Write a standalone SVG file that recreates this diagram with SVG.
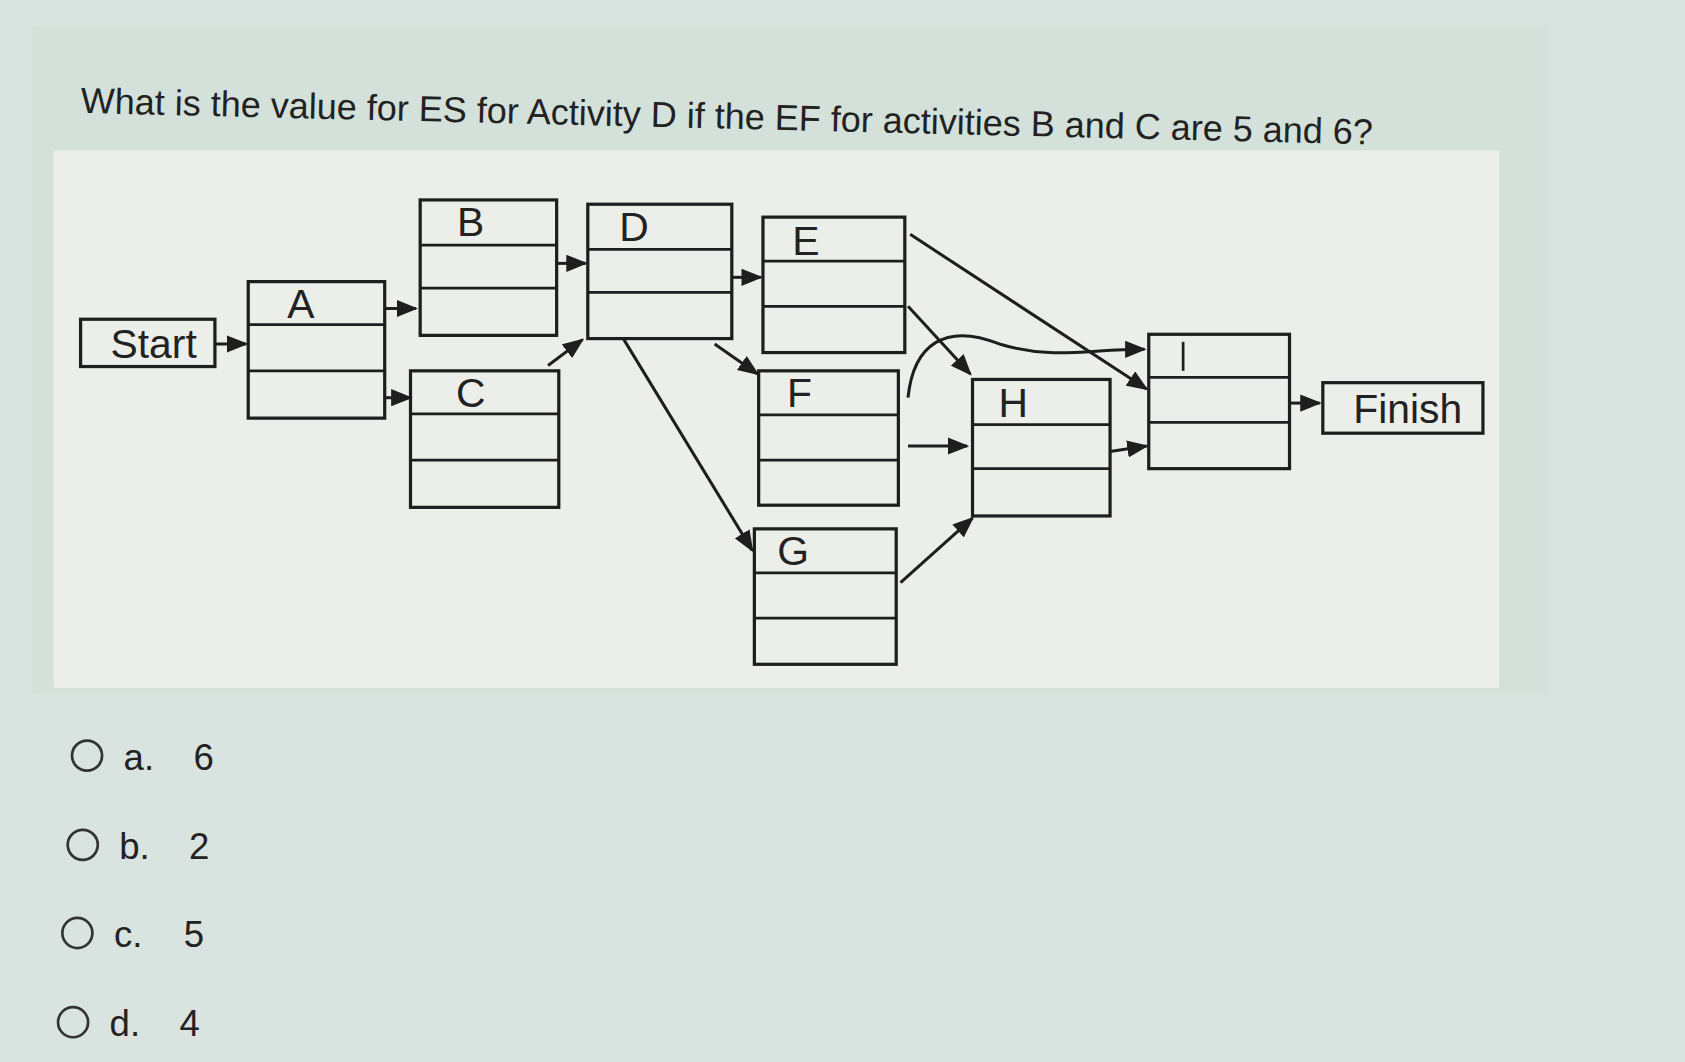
<svg xmlns="http://www.w3.org/2000/svg" width="1685" height="1062" viewBox="0 0 1685 1062">
<defs>
<style>
.n rect{fill:none;stroke:#1e1e1e;stroke-width:3}
.n line{stroke:#1e1e1e;stroke-width:2.5}
text{font-family:"Liberation Sans",Arial,sans-serif;fill:#222}
.lb{font-size:38px;text-anchor:middle}
.c line,.c path{stroke:#1e1e1e;stroke-width:2.8;fill:none;marker-end:url(#ah)}
.o circle{fill:none;stroke:#333;stroke-width:2.5}
.o text{font-size:34px}
</style>
<marker id="ah" markerWidth="20" markerHeight="16" refX="18" refY="8" orient="auto" markerUnits="userSpaceOnUse" viewBox="0 0 20 16"><path d="M0,0L20,8L0,16z" fill="#1e1e1e"/></marker>
</defs>
<rect width="1685" height="1062" fill="#d9e3df"/>
<g transform="scale(1.0746 1.0749)">
<rect x="30" y="25" width="1410" height="620" fill="#d3e1da"/>
<rect x="50" y="140" width="1345" height="500" fill="#ecefe9"/>
<text x="75" y="105" font-size="33.5" transform="rotate(1.4 75 105)">What is the value for ES for Activity D if the EF for activities B and C are 5 and 6?</text>
<g id="start" class="n"><rect x="75" y="297" width="125" height="44"/><text class="lb" x="143" y="333">Start</text></g>
<g id="A" class="n"><rect x="231" y="262" width="127" height="127"/><line x1="231" y1="302" x2="358" y2="302"/><line x1="231" y1="345" x2="358" y2="345"/><text class="lb" x="280" y="296">A</text></g>
<g id="B" class="n"><rect x="391" y="186" width="127" height="126"/><line x1="391" y1="228" x2="518" y2="228"/><line x1="391" y1="268" x2="518" y2="268"/><text class="lb" x="438" y="220">B</text></g>
<g id="C" class="n"><rect x="382" y="345" width="138" height="127"/><line x1="382" y1="385" x2="520" y2="385"/><line x1="382" y1="428" x2="520" y2="428"/><text class="lb" x="438" y="379">C</text></g>
<g id="D" class="n"><rect x="547" y="190" width="134" height="125"/><line x1="547" y1="232" x2="681" y2="232"/><line x1="547" y1="272" x2="681" y2="272"/><text class="lb" x="590" y="224">D</text></g>
<g id="E" class="n"><rect x="710" y="202" width="132" height="126"/><line x1="710" y1="243" x2="842" y2="243"/><line x1="710" y1="285" x2="842" y2="285"/><text class="lb" x="750" y="237">E</text></g>
<g id="F" class="n"><rect x="706" y="345" width="130" height="125"/><line x1="706" y1="386" x2="836" y2="386"/><line x1="706" y1="428" x2="836" y2="428"/><text class="lb" x="744" y="379">F</text></g>
<g id="G" class="n"><rect x="702" y="492" width="132" height="126"/><line x1="702" y1="533" x2="834" y2="533"/><line x1="702" y1="575" x2="834" y2="575"/><text class="lb" x="738" y="526">G</text></g>
<g id="H" class="n"><rect x="905" y="353" width="128" height="127"/><line x1="905" y1="395" x2="1033" y2="395"/><line x1="905" y1="436" x2="1033" y2="436"/><text class="lb" x="943" y="388">H</text></g>
<g id="I" class="n"><rect x="1069" y="311" width="131" height="125"/><line x1="1069" y1="351" x2="1200" y2="351"/><line x1="1069" y1="393" x2="1200" y2="393"/><line x1="1101" y1="318" x2="1101" y2="345"/></g>
<g id="finish" class="n"><rect x="1231" y="356" width="149" height="47"/><text class="lb" x="1310" y="394">Finish</text></g>
<g id="connectors" class="c">
<line x1="200" y1="320" x2="229" y2="320"/>
<line x1="358" y1="287" x2="387" y2="287"/>
<line x1="358" y1="370" x2="382" y2="370"/>
<line x1="518" y1="245" x2="545" y2="245"/>
<line x1="510" y1="340" x2="542" y2="316"/>
<line x1="681" y1="258" x2="708" y2="258"/>
<line x1="665" y1="320" x2="705" y2="348"/>
<line x1="580" y1="315" x2="700" y2="512"/>
<line x1="845" y1="285" x2="903" y2="348"/>
<line x1="847" y1="218" x2="1067" y2="362"/>
<line x1="845" y1="415" x2="900" y2="415"/>
<path d="M845,370 C850,320 880,300 930,320 C980,335 1010,325 1065,325"/>
<line x1="838" y1="542" x2="905" y2="482"/>
<line x1="1033" y1="420" x2="1067" y2="415"/>
<line x1="1200" y1="375" x2="1228" y2="375"/>
</g>
<g class="o">
<circle cx="81" cy="703" r="14"/><text x="115" y="716">a.</text><text x="180" y="716">6</text>
<circle cx="77" cy="786" r="14"/><text x="111" y="799">b.</text><text x="176" y="799">2</text>
<circle cx="72" cy="868" r="14"/><text x="106" y="881">c.</text><text x="171" y="881">5</text>
<circle cx="68" cy="951" r="14"/><text x="102" y="964">d.</text><text x="167" y="964">4</text>
</g>
</g>
</svg>
